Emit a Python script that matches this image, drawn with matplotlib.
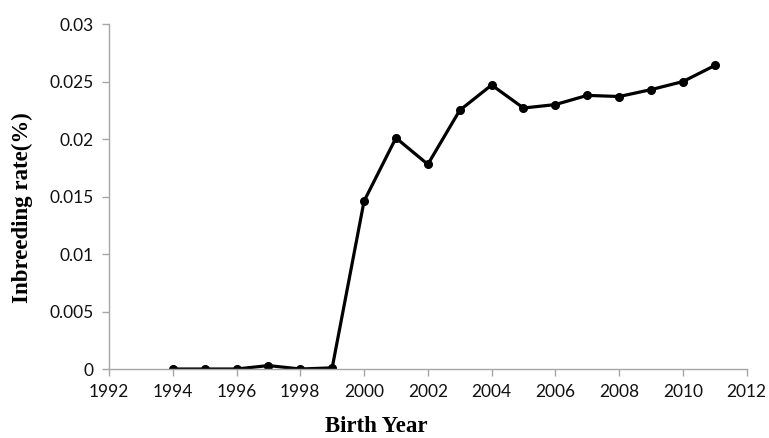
import matplotlib
matplotlib.use("Agg")
import matplotlib.pyplot as plt

years = [1994, 1995, 1996, 1997, 1998, 1999, 2000, 2001, 2002, 2003,
         2004, 2005, 2006, 2007, 2008, 2009, 2010, 2011]
rates = [0.0, 0.0, 0.0, 0.0003, 0.0, 0.0001, 0.0146, 0.0201, 0.0178, 0.0225,
         0.0247, 0.0227, 0.0230, 0.0238, 0.0237, 0.0243, 0.0250, 0.0264]
xticks = [1992, 1994, 1996, 1998, 2000, 2002, 2004, 2006, 2008, 2010, 2012]
yticks = [0, 0.005, 0.01, 0.015, 0.02, 0.025, 0.03]
ytick_labels = ["0", "0.005", "0.01", "0.015", "0.02", "0.025", "0.03"]

fig = plt.figure(figsize=(7.69, 4.38), dpi=100)
ax = fig.add_axes([0.1417, 0.1575, 0.8293, 0.7875])
ax.plot(years, rates, color="black", linewidth=2.3, marker="o", markersize=5.5)
ax.set_xlim(1992, 2012)
ax.set_ylim(0, 0.03)
ax.set_xticks(xticks)
ax.set_yticks(yticks)
ax.set_yticklabels(ytick_labels)
for s in ["top", "right"]:
    ax.spines[s].set_visible(False)
for s in ["left", "bottom"]:
    ax.spines[s].set_color("#a6a6a6")
    ax.spines[s].set_linewidth(1.0)
ax.tick_params(axis="both", colors="#a6a6a6", length=5, width=1.0,
               labelcolor="#111111", labelsize=12.5, pad=6)
for lab in ax.get_xticklabels() + ax.get_yticklabels():
    lab.set_fontfamily("Lato")
ax.set_xlabel("Birth Year", fontfamily="Liberation Serif", fontweight="bold",
              fontsize=16.5, va="baseline")
ax.xaxis.set_label_coords(0.419, -0.184)
ax.set_ylabel("Inbreeding rate(%)", fontfamily="Liberation Serif", fontweight="bold",
              fontsize=16.5, va="center")
ax.yaxis.set_label_coords(-0.136, 0.468)
fig.savefig("out.png", dpi=100)
